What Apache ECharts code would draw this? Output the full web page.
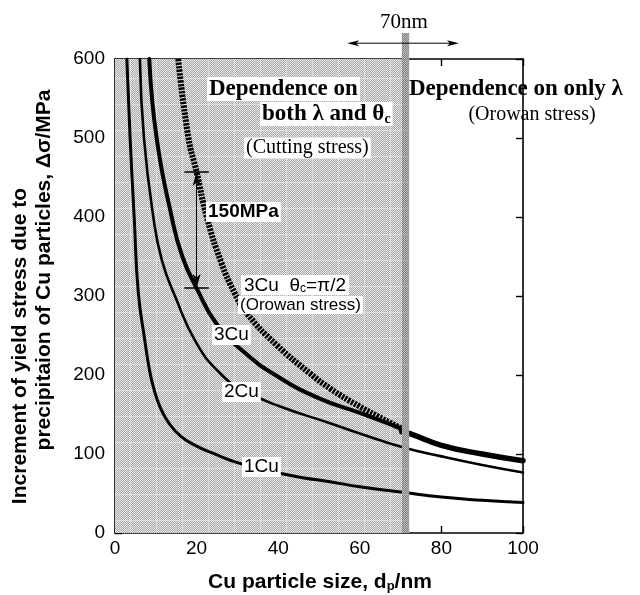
<!DOCTYPE html>
<html><head><meta charset="utf-8">
<script src="https://cdn.jsdelivr.net/npm/echarts@6/dist/echarts.min.js"></script>
<style>html,body{margin:0;padding:0;background:#fff}#c{width:640px;height:595px}</style>
</head><body><div id="c"></div>
<script>
// ---- data ----
const xTicks = [0, 20, 40, 60, 80, 100];
const yTicks = [0, 100, 200, 300, 400, 500, 600];
const cu1 = [[2.9,600],[3.7,500],[4.7,400],[5.7,305],[7.3,244],[8.4,208],[9.4,185],[11,160],[13.1,140],[16,123],[20,110],[25,99],[30,89],[36,81],[40,76],[46,70],[52.7,65],[60,58.5],[70,52],[80,45.5],[90,41.5],[100,38.5]];
const cu2 = [[6.1,600],[7.1,500],[9.4,400],[11.5,345],[14.7,300],[20,240],[26,201],[31.4,181],[40,161],[52.7,139],[60,126],[70.3,109],[80,97],[90,86],[100,76.5]];
const cu3 = [[8.4,600],[10.2,500],[13.9,400],[16.5,350],[20,310],[25,264],[31.4,230],[39.6,199],[50.2,170],[60,152],[70.3,132]];
const orowan3 = [[15.5,600],[18,500],[20,457],[22.5,400],[26,343],[29.4,303],[32.3,278],[39.6,238],[47.8,202],[52.7,183],[60,160],[70.3,132]];
const merged = [[70.3,128],[72.1,126],[80,111],[90,100],[100,91.5]];
const shadeRange = [0, 70.3];
const bandRange = [70.3, 72.1];
const bandTop = 633;
const arrow150 = [[20,457],[20,310]];
const cross150 = [[17,23],[457,310]];
const arrow70 = [[56.9,620],[84.3,620]];

function stipple(dark, light, lineCol, s) {
  const c = document.createElement('canvas'); c.width = s; c.height = s;
  const g = c.getContext('2d');
  for (let y = 0; y < s; y++) for (let x = 0; x < s; x++) {
    let col = ((x + y) & 1) ? dark : light;
    if ((x === 0 || y === 0) && ((x + y) & 1)) col = lineCol;
    g.fillStyle = col; g.fillRect(x, y, 1, 1);
  }
  return c;
}
const shadePat = { image: stipple('#aaaaaa', '#e6e6e6', '#d4d4d4', 26), repeat: 'repeat' };
const bandPat = { image: stipple('#848484', '#b8b8b8', '#9c9c9c', 26), repeat: 'repeat' };

const chart = echarts.init(document.getElementById('c'), null, { renderer: 'canvas' });
const sans = 'Liberation Sans, Arial, sans-serif';
const serif = 'Liberation Serif, Times New Roman, serif';
const axCommon = (pos, showLabel, min, max, interval) => ({
  type: 'value', position: pos, min, max, interval,
  axisLine: { show: true, onZero: false, lineStyle: { color: '#000', width: 1.6 } },
  axisTick: { show: true, inside: true, length: 7, lineStyle: { color: '#000', width: 1.4 } },
  axisLabel: { show: showLabel, color: '#000', fontSize: 19, fontFamily: sans, margin: pos === 'left' ? 10 : 6 },
  splitLine: { show: false }
});
const lineSeries = (name, data, width, extra) => Object.assign({
  name, type: 'line', data, smooth: 0.5, showSymbol: false, symbol: 'none',
  lineStyle: { color: '#000', width, cap: 'round' }, z: 3
}, extra || {});

const option = {
  animation: false,
  backgroundColor: '#fff',
  grid: { left: 115, right: 117, top: 59, bottom: 62 },
  xAxis: [axCommon('bottom', true, xTicks[0], xTicks[xTicks.length-1], xTicks[1]-xTicks[0]),
          axCommon('top', false, xTicks[0], xTicks[xTicks.length-1], xTicks[1]-xTicks[0])],
  yAxis: [axCommon('left', true, yTicks[0], yTicks[yTicks.length-1], yTicks[1]-yTicks[0]),
          axCommon('right', false, yTicks[0], yTicks[yTicks.length-1], yTicks[1]-yTicks[0])],
  series: [
    { type: 'line', data: [], z: 1, silent: true,
      markArea: { silent: true, itemStyle: { color: shadePat },
        data: [[{ coord: [shadeRange[0], yTicks[0]] }, { coord: [shadeRange[1], yTicks[yTicks.length-1]] }]] } },
    lineSeries('1Cu', cu1, 3),
    lineSeries('2Cu', cu2, 2.6),
    lineSeries('3Cu', cu3, 4),
    lineSeries('3Cu Orowan', orowan3, 6, { lineStyle: { color: '#000', width: 6, type: [2.4, 1.2], cap: 'butt' } }),
    lineSeries('merged', merged, 5.5),
    { type: 'line', data: [], z: 4, silent: true,
      markLine: { silent: true, animation: false, symbol: 'none', label: { show: false },
        lineStyle: { color: '#000', width: 1.5, type: 'solid' },
        data: [
          [{ coord: [cross150[0][0], cross150[1][0]] }, { coord: [cross150[0][1], cross150[1][0]] }],
          [{ coord: [cross150[0][0], cross150[1][1]] }, { coord: [cross150[0][1], cross150[1][1]] }],
          [{ coord: arrow150[0], symbol: 'arrow', symbolSize: [6, 14] }, { coord: arrow150[1], symbol: 'arrow', symbolSize: [6, 14], lineStyle: { width: 1 } }]
        ] } }
  ]
};
chart.setOption(option);

const P = (x, y) => chart.convertToPixel({ gridIndex: 0 }, [x, y]);
const b0 = P(bandRange[0], bandTop), b1 = P(bandRange[1], 0);
const a0 = P(arrow70[0][0], arrow70[0][1]), a1 = P(arrow70[1][0], arrow70[1][1]);
const box = (text, x, y, font, align, extra) => Object.assign({
  type: 'text', z: 60, style: Object.assign({ text, x, y, font, fill: '#000', align: align || 'left', verticalAlign: 'middle',
    backgroundColor: '#fff', padding: [1, 2, 0, 2] }, extra || {}) });
const plain = (text, x, y, font, align) => ({ type: 'text', z: 60,
  style: { text, x, y, font, fill: '#000', align: align || 'left', verticalAlign: 'middle' } });

const graphics = [
  { type: 'rect', z: 50, shape: { x: b0[0], y: b0[1], width: b1[0] - b0[0], height: b1[1] - b0[1] }, style: { fill: bandPat } },
  { type: 'line', z: 55, shape: { x1: a0[0] + 6, y1: a0[1], x2: a1[0] - 6, y2: a1[1] }, style: { stroke: '#000', lineWidth: 1 } },
  { type: 'polygon', z: 55, shape: { points: [[a0[0], a0[1]], [a0[0] + 12, a0[1] - 3], [a0[0] + 9, a0[1]], [a0[0] + 12, a0[1] + 3]] }, style: { fill: '#000' } },
  { type: 'polygon', z: 55, shape: { points: [[a1[0], a1[1]], [a1[0] - 12, a1[1] - 3], [a1[0] - 9, a1[1]], [a1[0] - 12, a1[1] + 3]] }, style: { fill: '#000' } },
  plain('70nm', 404, 22, '21px ' + serif, 'center'),
  box('Dependence on', 207, 89, 'bold 23px ' + serif),
  { type: 'text', z: 60, style: { x: 260, y: 114, verticalAlign: 'middle', backgroundColor: '#fff', padding: [1, 2, 0, 2],
      text: '{a|both λ and θ}{s|c}', rich: { a: { font: 'bold 23px ' + serif, fill: '#000' }, s: { font: 'bold 14px ' + serif, fill: '#000', verticalAlign: 'bottom' } } } },
  box('(Cutting stress)', 244, 148, '20px ' + serif),
  plain('Dependence on only λ', 409, 89, 'bold 23px ' + serif),
  plain('(Orowan stress)', 532, 115, '20px ' + serif, 'center'),
  box('150MPa', 206, 212, 'bold 19px ' + sans),
  { type: 'text', z: 60, style: { x: 241, y: 285, verticalAlign: 'middle', backgroundColor: '#fff', padding: [1, 3, 0, 3],
      text: '{a|3Cu  θ}{s|c}{a|=π/2}', rich: { a: { font: '19px ' + sans, fill: '#000' }, s: { font: '12px ' + sans, fill: '#000', verticalAlign: 'bottom' } } } },
  box('(Orowan stress)', 238, 305, '17px ' + sans),
  box('3Cu', 212, 335, '19px ' + sans),
  box('2Cu', 222, 392, '19px ' + sans),
  box('1Cu', 242, 467, '19px ' + sans),
  { type: 'text', z: 60, style: { x: 320, y: 582, align: 'center', verticalAlign: 'middle',
      text: '{a|Cu particle size, d}{s|p}{a|/nm}', rich: { a: { font: 'bold 21px ' + sans, fill: '#000' }, s: { font: 'bold 13px ' + sans, fill: '#000', verticalAlign: 'bottom' } } } },
  { type: 'text', z: 60, x: 20, y: 346, rotation: Math.PI / 2,
    style: { x: 0, y: 0, text: 'Increment of yield stress due to', font: 'bold 21px ' + sans, fill: '#000', align: 'center', verticalAlign: 'middle' } },
  { type: 'text', z: 60, x: 44, y: 270, rotation: Math.PI / 2,
    style: { x: 0, y: 0, text: 'precipitaion of Cu particles, Δσ/MPa', font: 'bold 21px ' + sans, fill: '#000', align: 'center', verticalAlign: 'middle' } }
];
chart.setOption({ graphic: graphics });
</script></body></html>
